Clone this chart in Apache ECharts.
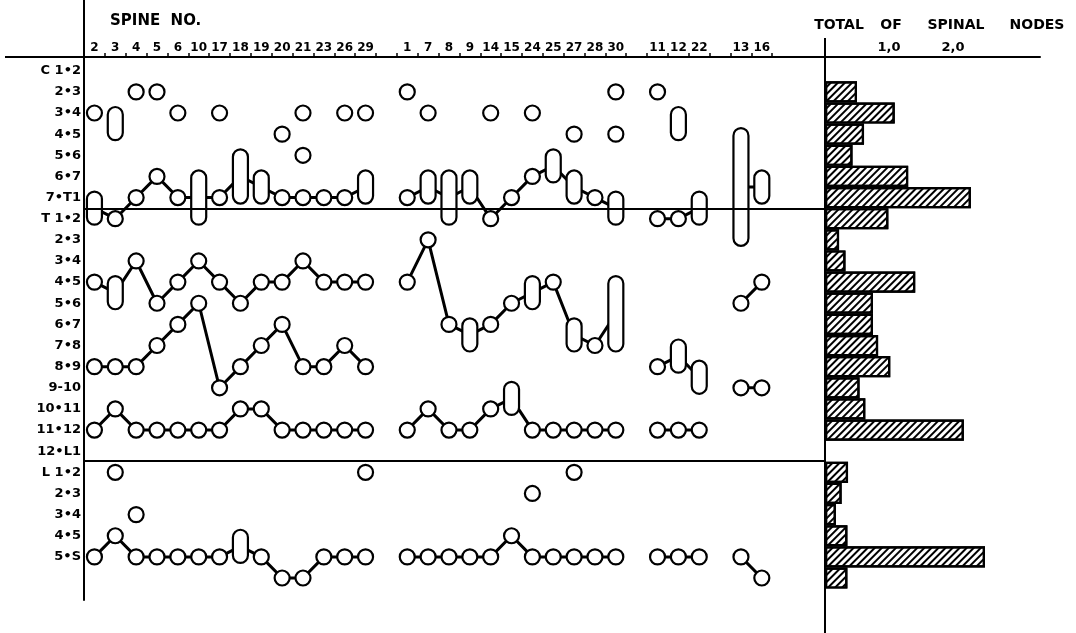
<!DOCTYPE html>
<html><head><meta charset="utf-8">
<script src="https://cdn.jsdelivr.net/npm/echarts@6/dist/echarts.min.js"></script>
<style>html,body{margin:0;padding:0;background:#fff}#c{width:1076px;height:633px}</style>
</head><body><div id="c"></div>
<script>
// ---- data ----
// spine numbers along the top (blank = gap between groups)
const spineLabels = ['2','3','4','5','6','10','17','18','19','20','21','23','26','29','',
  '1','7','8','9','14','15','24','25','27','28','30','',
  '11','12','22','',
  '13','16'];
// intervertebral levels down the side (last row unlabeled)
const rowLabels = ['C 1•2','2•3','3•4','4•5','5•6','6•7','7•T1',
  'T 1•2','2•3','3•4','4•5','5•6','6•7','7•8','8•9','9-10','10•11','11•12','12•L1',
  'L 1•2','2•3','3•4','4•5','5•S',''];
// total of spinal nodes per level (bar lengths)
const totals = [null,0.50,1.09,0.61,0.43,1.30,2.28,0.99,0.22,0.32,1.41,0.75,0.75,0.83,1.02,0.54,0.63,2.17,null,0.36,0.26,0.17,0.35,2.50,0.35];
// section boundaries (cervical/thoracic, thoracic/lumbar) on the level scale
const sectionBreaks = [6.55, 18.45];
// marks: [spine slot, first level, last level]  (a circle when both levels are equal)
const isolatedMarks = [
  [0,2,2],[1,2,3],[2,1,1],[3,1,1],[4,2,2],[6,2,2],[9,3,3],[10,2,2],[10,4,4],[12,2,2],[13,2,2],
  [15,1,1],[16,2,2],[19,2,2],[21,2,2],[23,3,3],[25,1,1],[25,3,3],[27,1,1],[28,2,3],
  [1,19,19],[13,19,19],[2,21,21],[23,19,19],[21,20,20]
];
const cervicalChain = [
  [[0,6,7],[1,7,7],[2,6,6],[3,5,5],[4,6,6],[5,5,7],[6,6,6],[7,4,6],[8,5,6],[9,6,6],[10,6,6],[11,6,6],[12,6,6],[13,5,6]],
  [[15,6,6],[16,5,6],[17,5,7],[18,5,6],[19,7,7],[20,6,6],[21,5,5],[22,4,5],[23,5,6],[24,6,6],[25,6,7]],
  [[27,7,7],[28,7,7],[29,6,7]],
  [[31,3,8],[32,5,6]]
];
const thoracicUpperChain = [
  [[0,10,10],[1,10,11],[2,9,9],[3,11,11],[4,10,10],[5,9,9],[6,10,10],[7,11,11],[8,10,10],[9,10,10],[10,9,9],[11,10,10],[12,10,10],[13,10,10]],
  [[15,10,10],[16,8,8],[17,12,12],[18,12,13],[19,12,12],[20,11,11],[21,10,11],[22,10,10],[23,12,13],[24,13,13],[25,10,13]],
  [[31,11,11],[32,10,10]]
];
const thoracicLowerChain = [
  [[0,14,14],[1,14,14],[2,14,14],[3,13,13],[4,12,12],[5,11,11],[6,15,15],[7,14,14],[8,13,13],[9,12,12],[10,14,14],[11,14,14],[12,13,13],[13,14,14]],
  [[27,14,14],[28,13,14],[29,14,15]],
  [[31,15,15],[32,15,15]]
];
const thoracicCaudalChain = [
  [[0,17,17],[1,16,16],[2,17,17],[3,17,17],[4,17,17],[5,17,17],[6,17,17],[7,16,16],[8,16,16],[9,17,17],[10,17,17],[11,17,17],[12,17,17],[13,17,17]],
  [[15,17,17],[16,16,16],[17,17,17],[18,17,17],[19,16,16],[20,15,16],[21,17,17],[22,17,17],[23,17,17],[24,17,17],[25,17,17]],
  [[27,17,17],[28,17,17],[29,17,17]]
];
const sacralChain = [
  [[0,23,23],[1,22,22],[2,23,23],[3,23,23],[4,23,23],[5,23,23],[6,23,23],[7,22,23],[8,23,23],[9,24,24],[10,24,24],[11,23,23],[12,23,23],[13,23,23]],
  [[15,23,23],[16,23,23],[17,23,23],[18,23,23],[19,23,23],[20,22,22],[21,23,23],[22,23,23],[23,23,23],[24,23,23],[25,23,23]],
  [[27,23,23],[28,23,23],[29,23,23]],
  [[31,23,23],[32,24,24]]
];
const barTicks = ['', '1,0', '2,0', ''];
const titleWords = ['TOTAL', 'OF', 'SPINAL', 'NODES'];

// ---- chart ----
const FONT = '"DejaVu Sans", "Liberation Sans", Arial, sans-serif';
const chains = [cervicalChain, thoracicUpperChain, thoracicLowerChain, thoracicCaudalChain, sacralChain];
const allMarks = isolatedMarks.concat(chains.flat(1).flat(1));

const ROW_MIN = -0.65, ROW_MAX = 25.04;
const X_MIN = -0.5, X_MAX = 35.03;
const BAR_MAX = 3.36;

const series = [];
chains.forEach(ch => ch.forEach(g => {
  series.push({
    type: 'line', xAxisIndex: 0, yAxisIndex: 0, silent: true, animation: false,
    data: g.map(m => [m[0], (m[1] + m[2]) / 2]),
    symbol: 'none', lineStyle: { color: '#000', width: 3 }, z: 2
  });
}));
series[0].markLine = {
  silent: true, symbol: 'none', label: { show: false },
  lineStyle: { color: '#000', width: 2, type: 'solid' },
  data: sectionBreaks.map(v => ({ yAxis: v }))
};
series.push({
  type: 'custom', xAxisIndex: 0, yAxisIndex: 0, z: 3, animation: false, silent: true,
  data: allMarks,
  encode: { x: 0, y: 1 },
  renderItem: function (params, api) {
    const s = api.value(0), t = api.value(1), b = api.value(2);
    const p1 = api.coord([s, t]), p2 = api.coord([s, b]);
    const R = 7.5;
    const ext = (b > t) ? R - 1.5 : R;
    return {
      type: 'rect',
      shape: { x: p1[0] - R, y: p1[1] - ext, width: 2 * R, height: p2[1] - p1[1] + 2 * ext, r: R },
      style: { fill: '#fff', stroke: '#000', lineWidth: 2.2 }
    };
  }
});
series.push({
  type: 'bar', xAxisIndex: 3, yAxisIndex: 3, animation: false, silent: true,
  data: totals, barWidth: '100%',
  itemStyle: {
    color: '#fff', borderColor: '#000', borderWidth: 2.2,
    decal: { symbol: 'rect', symbolSize: 1, dashArrayX: [1, 0], dashArrayY: [2, 3], rotation: -Math.PI / 4, color: '#000' }
  }
});

const rowH = 543 / (ROW_MAX - ROW_MIN);
const catTop = 57 + (-0.5 - ROW_MIN) * rowH;
const catH = rowLabels.length * rowH;
const slotW = 741 / (X_MAX - X_MIN);

const titleX = [839, 891, 956, 1037];

const option = {
  backgroundColor: '#fff',
  animation: false,
  aria: { enabled: true, decal: { show: true } },
  grid: [
    { left: 84, top: 57, width: 741, height: 543 },
    { left: 84, top: catTop, width: 1, height: catH },
    { left: 84, top: 57, width: slotW * spineLabels.length, height: 1 },
    { left: 825, top: catTop, width: 215, height: catH },
    { left: 825, top: 57, width: 215, height: 1 }
  ],
  xAxis: [
    { gridIndex: 0, type: 'value', min: X_MIN, max: X_MAX, position: 'top',
      axisLine: { show: true, onZero: false, lineStyle: { color: '#000', width: 2 } },
      axisTick: { show: false }, axisLabel: { show: false }, splitLine: { show: false } },
    { gridIndex: 1, type: 'value', show: false },
    { gridIndex: 2, type: 'category', data: spineLabels, position: 'top',
      axisLine: { show: false },
      axisTick: { show: true, length: 5, lineStyle: { color: '#000', width: 1.5 } },
      axisLabel: { interval: 0, margin: 3, color: '#000', fontFamily: FONT, fontWeight: 'bold', fontSize: 12 },
      splitLine: { show: false } },
    { gridIndex: 3, type: 'value', min: 0, max: BAR_MAX, show: false },
    { gridIndex: 4, type: 'value', min: 0, max: BAR_MAX, interval: 1, position: 'top',
      axisLine: { show: true, onZero: false, lineStyle: { color: '#000', width: 2 } },
      axisTick: { show: false }, splitLine: { show: false },
      axisLabel: { margin: 3, color: '#000', fontFamily: FONT, fontWeight: 'bold', fontSize: 13,
        formatter: v => barTicks[Math.round(v)] || '' } }
  ],
  yAxis: [
    { gridIndex: 0, type: 'value', inverse: true, min: ROW_MIN, max: ROW_MAX,
      axisLine: { show: true, onZero: false, lineStyle: { color: '#000', width: 2 } },
      axisTick: { show: false }, axisLabel: { show: false }, splitLine: { show: false } },
    { gridIndex: 1, type: 'category', inverse: true, data: rowLabels,
      axisLine: { show: false }, axisTick: { show: false },
      axisLabel: { interval: 0, margin: 3, color: '#000', fontFamily: FONT, fontWeight: 'bold', fontSize: 13 } },
    { gridIndex: 2, type: 'value', show: false },
    { gridIndex: 3, type: 'category', inverse: true, data: rowLabels, show: false },
    { gridIndex: 4, type: 'value', show: false }
  ],
  graphic: [
    { type: 'line', shape: { x1: 5, y1: 57, x2: 84, y2: 57 }, style: { stroke: '#000', lineWidth: 2 } },
    { type: 'line', shape: { x1: 84, y1: 0, x2: 84, y2: 57 }, style: { stroke: '#000', lineWidth: 2 } },
    { type: 'line', shape: { x1: 825, y1: 38, x2: 825, y2: 633 }, style: { stroke: '#000', lineWidth: 2 } },
    { type: 'text', left: 110, top: 14, style: { text: 'SPINE  NO.', font: 'bold 15px ' + FONT, fill: '#000' } }
  ].concat(titleWords.map((w, i) => ({
    type: 'text', x: titleX[i], y: 18,
    style: { text: w, align: 'center', font: 'bold 14px ' + FONT, fill: '#000' }
  }))),
  series: series
};
const chart = echarts.init(document.getElementById('c'));
chart.setOption(option);
</script>
</body></html>
